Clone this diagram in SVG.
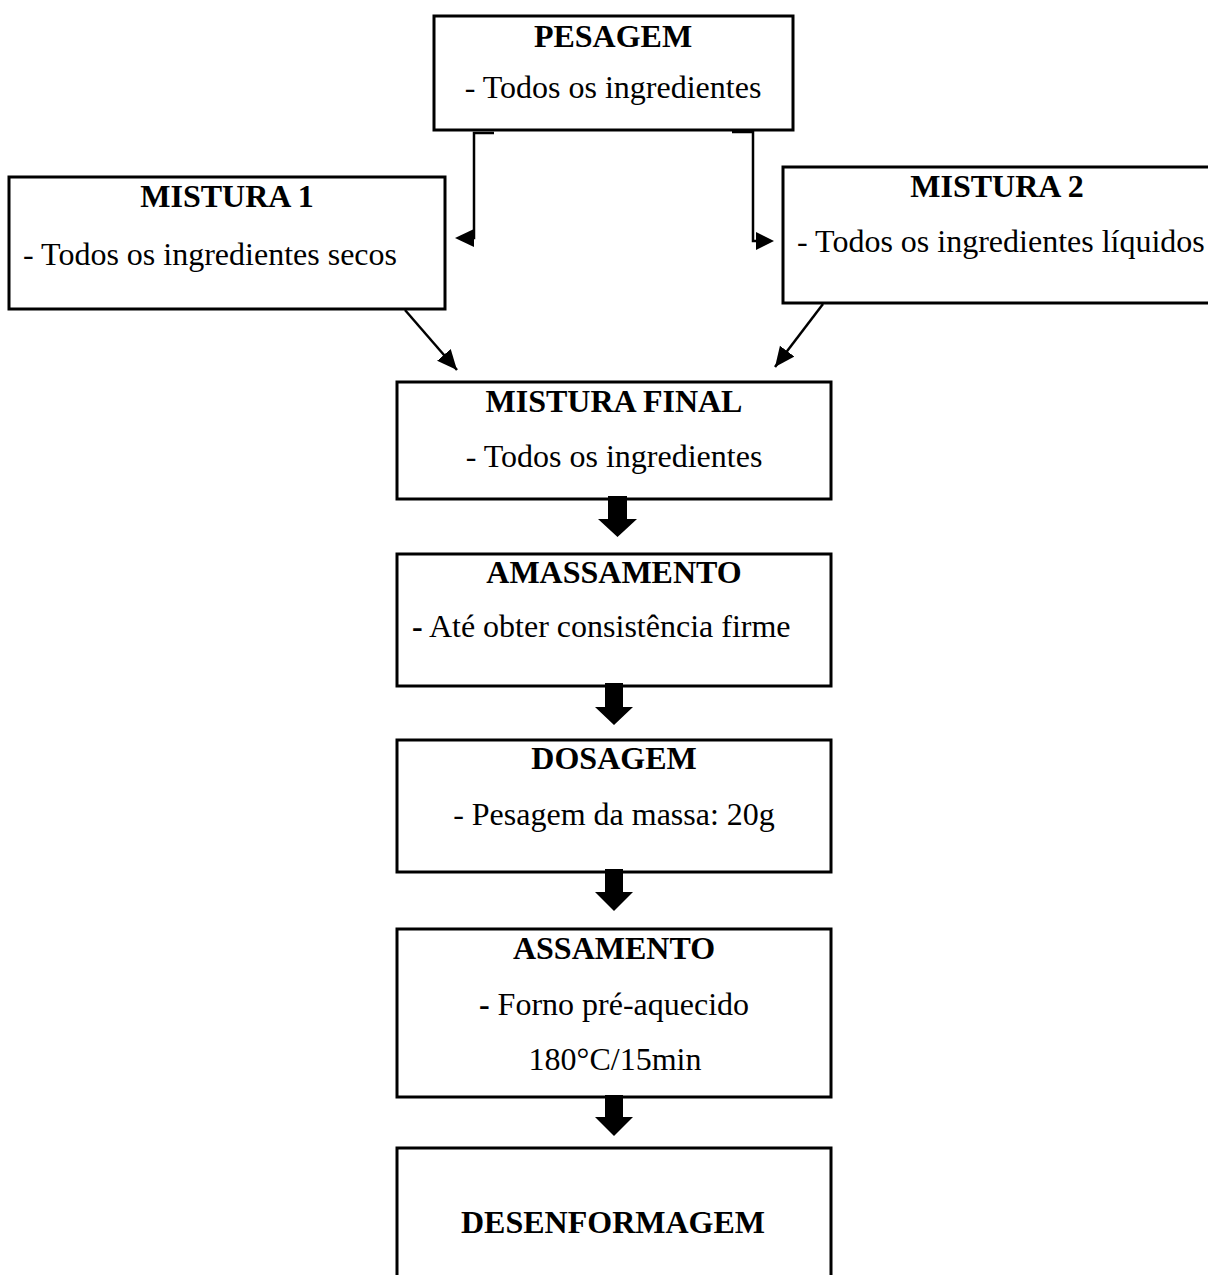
<svg xmlns="http://www.w3.org/2000/svg" width="1208" height="1275" viewBox="0 0 1208 1275">
<defs>
<style>
.box{fill:#fff;stroke:#000;stroke-width:3}
text{font-family:"Liberation Serif","Times New Roman",serif;font-size:32px;fill:#000}
.t{font-weight:bold;text-anchor:middle}
.c{text-anchor:middle}
.ln{fill:none;stroke:#000;stroke-width:2.5}
.blk{fill:#000}
</style>
<marker id="ah" markerUnits="userSpaceOnUse" markerWidth="22" markerHeight="20" refX="20" refY="9" orient="auto">
<path d="M0,0 L20,9 L0,18 Z" fill="#000"/>
</marker>
</defs>
<rect width="1208" height="1275" fill="#fff"/>

<g id="pesagem">
<rect class="box" x="434" y="16" width="359" height="114"/>
<text class="t" x="613" y="47">PESAGEM</text>
<text class="c" x="613" y="98">- Todos os ingredientes</text>
</g>

<g id="mistura1">
<rect class="box" x="9" y="177" width="436" height="132"/>
<text class="t" x="227" y="207">MISTURA 1</text>
<text x="23" y="265">- Todos os ingredientes secos</text>
</g>

<g id="mistura2">
<rect class="box" x="783" y="167" width="440" height="136"/>
<text class="t" x="997" y="197">MISTURA 2</text>
<text x="797" y="252">- Todos os ingredientes líquidos</text>
</g>

<g id="misturafinal">
<rect class="box" x="397" y="382" width="434" height="117"/>
<text class="t" x="614" y="412">MISTURA FINAL</text>
<text class="c" x="614" y="467">- Todos os ingredientes</text>
</g>

<g id="amassamento">
<rect class="box" x="397" y="554" width="434" height="132"/>
<text class="t" x="614" y="583">AMASSAMENTO</text>
<text x="412" y="637"><tspan font-weight="bold">-</tspan> Até obter consistência firme</text>
</g>

<g id="dosagem">
<rect class="box" x="397" y="740" width="434" height="132"/>
<text class="t" x="614" y="769">DOSAGEM</text>
<text class="c" x="614" y="825">- Pesagem da massa: 20g</text>
</g>

<g id="assamento">
<rect class="box" x="397" y="929" width="434" height="168"/>
<text class="t" x="614" y="959">ASSAMENTO</text>
<text class="c" x="614" y="1015"><tspan font-weight="bold">-</tspan> Forno pré-aquecido</text>
<text class="c" x="615" y="1070">180°C/15min</text>
</g>

<g id="desenformagem">
<rect class="box" x="397" y="1148" width="434" height="140"/>
<text class="t" x="613" y="1233">DESENFORMAGEM</text>
</g>

<g id="connectors">
<path class="ln" d="M494,133 H474 V238 H470"/>
<path class="blk" d="M455,238 L474,229 L474,247 Z"/>
<path class="ln" d="M732,132 H753 V241 H760"/>
<path class="blk" d="M774,241 L756,232 L756,250 Z"/>
<line class="ln" x1="405" y1="310" x2="457" y2="370" marker-end="url(#ah)"/>
<line class="ln" x1="823" y1="304" x2="775" y2="367" marker-end="url(#ah)"/>
<path class="blk" d="M608,496 H627 V519 H637 L617.5,537 L598,519 H608 Z"/>
<path class="blk" d="M605,683 H623 V707 H633 L614,725 L595,707 H605 Z"/>
<path class="blk" d="M605,869 H623 V892 H633 L614,911 L595,892 H605 Z"/>
<path class="blk" d="M605,1095 H623 V1117 H633 L614,1136 L595,1117 H605 Z"/>
</g>
</svg>
